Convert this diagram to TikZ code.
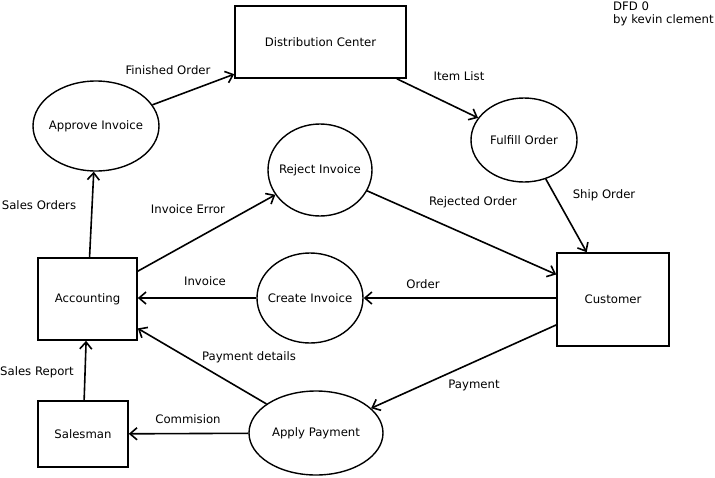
\documentclass[tikz,border=0pt]{standalone}
\usepackage{fontspec}
\setmainfont{DejaVu Sans}
\usetikzlibrary{shapes.geometric,arrows.meta}
\begin{document}
\begin{tikzpicture}[x=1pt,y=-1pt,
  every node/.style={font=\fontsize{11.7}{13.5}\selectfont},
  box/.style={draw,line width=1.6pt,inner sep=0pt},
  proc/.style={draw,ellipse,line width=1.4pt,inner xsep=-12pt,inner ysep=0pt},
  flow/.style={line width=1.6pt,-{Straight Barb[length=7pt,width=12pt,line width=1.6pt]}},
  lbl/.style={inner sep=0pt}]
\useasboundingbox (0,0) rectangle (715,477);
\fill[white] (0,0) rectangle (715,477);
% boxes
\node[box,minimum width=171pt,minimum height=72pt] (dc) at (320.5,42) {Distribution Center};
\node[box,minimum width=99pt,minimum height=82pt] (acc) at (87.5,299) {Accounting};
\node[box,minimum width=112pt,minimum height=93pt] (cust) at (613,299.5) {Customer};
\node[box,minimum width=90pt,minimum height=66pt] (sales) at (83,434) {Salesman};
% processes
\node[proc,minimum width=126pt,minimum height=90pt] (ai) at (96,126) {Approve Invoice};
\node[proc,minimum width=106pt,minimum height=84pt] (fo) at (524,140) {Fulfill Order};
\node[proc,minimum width=104pt,minimum height=92pt] (ri) at (320,170) {Reject Invoice};
\node[proc,minimum width=106pt,minimum height=90pt] (ci) at (310,298) {Create Invoice};
\node[proc,minimum width=134pt,minimum height=84pt] (ap) at (316,433) {Apply Payment};
% flows
\draw[flow] (ai) -- (dc);
\draw[flow] (dc) -- (fo);
\draw[flow] (fo) -- (cust);
\draw[flow] (ri) -- (cust);
\draw[flow] (acc) -- (ri);
\draw[flow] (acc) -- (ai);
\draw[flow] (cust.west |- ci) -- (ci);
\draw[flow] (ci) -- (acc.east |- ci);
\draw[flow] (cust) -- (ap);
\draw[flow] (ap) -- (acc);
\draw[flow] (ap) -- (sales);
\draw[flow] (sales) -- (acc);
% labels
\node[lbl] (l1) at (168,70) {Finished Order};
\node[lbl] (l2) at (459,76) {Item List};
\node[lbl] (l3) at (604,195) {Ship Order};
\node[lbl] (l4) at (473,202) {Rejected Order};
\node[lbl] (l5) at (188,209) {Invoice Error};
\node[lbl] (l6) at (39,205) {Sales Orders};
\node[lbl] (l7) at (423,284) {Order};
\node[lbl] (l8) at (205,281) {Invoice};
\node[lbl] (l9) at (474,385) {Payment};
\node[lbl] (l10) at (249,357) {Payment details};
\node[lbl] (l11) at (188,419) {Commision};
\node[lbl] (l12) at (37,372) {Sales Report};
\node[lbl,anchor=north west,align=left] (title) at (613,1.5) {DFD 0\\by kevin clement};
\end{tikzpicture}
\end{document}
